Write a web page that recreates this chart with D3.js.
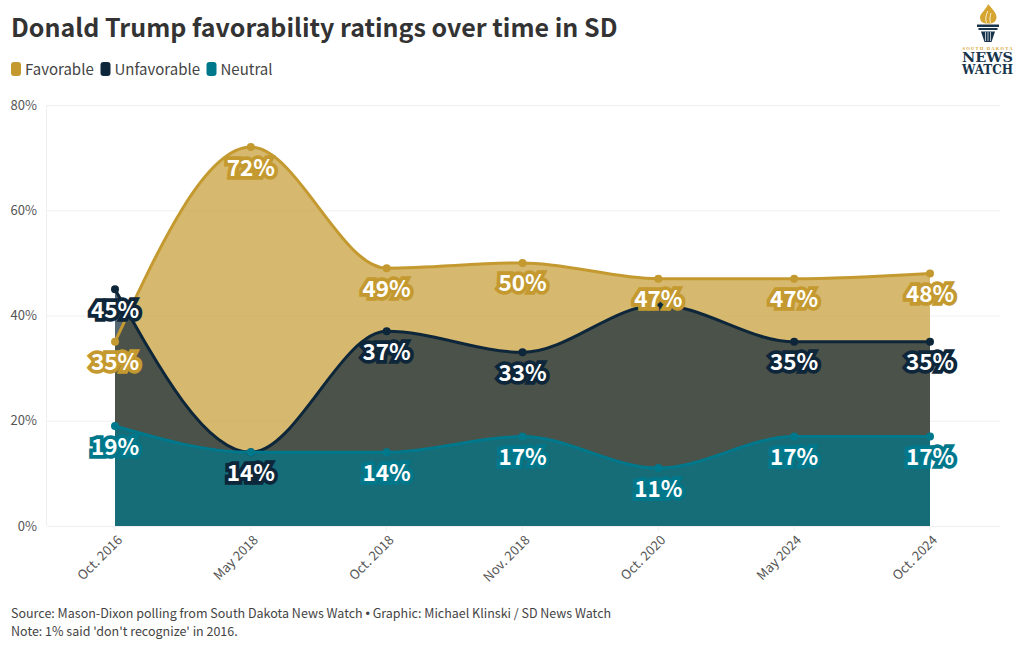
<!DOCTYPE html>
<html><head><meta charset="utf-8">
<script src="https://cdn.jsdelivr.net/npm/d3@7"></script>
<style>
html,body{margin:0;padding:0;background:#fff;}
svg{display:block;font-family:"Noto Sans CJK SC","Noto Sans",sans-serif;}
</style></head><body>
<svg id="c" width="1020" height="650"></svg>
<script>
const categories=["Oct. 2016","May 2018","Oct. 2018","Nov. 2018","Oct. 2020","May 2024","Oct. 2024"];
const favorable=[35,72,49,50,47,47,48];
const unfavorable=[45,14,37,33,42,35,35];
const neutral=[19,14,14,17,11,17,17];
const yTicks=[0,20,40,60,80];
const names=["Favorable","Unfavorable","Neutral"];
const colors=["#c49a30","#0e2639","#00788c"];
const unfavLabels=[true,true,true,true,false,true,true];

const svg=d3.select("#c");
const x=d3.scalePoint().domain(categories).range([115,930]);
const y=d3.scaleLinear().domain([0,80]).range([526,105]);

svg.append("g").selectAll("line").data(yTicks).join("line")
  .attr("x1",47).attr("x2",1000).attr("y1",d=>y(d)+.5).attr("y2",d=>y(d)+.5)
  .attr("stroke","#efefef");
svg.append("line").attr("x1",46.5).attr("x2",46.5).attr("y1",105).attr("y2",526).attr("stroke","#efefef");
svg.append("g").selectAll("line").data(categories).join("line")
  .attr("x1",d=>x(d)).attr("x2",d=>x(d)).attr("y1",526).attr("y2",531).attr("stroke","#efefef");
svg.append("g").selectAll("text").data(yTicks).join("text")
  .attr("x",37).attr("y",d=>y(d)+4.5).attr("text-anchor","end")
  .attr("font-size",13).attr("fill","#555").text(d=>d+"%");
svg.append("g").selectAll("text").data(categories).join("text")
  .attr("text-anchor","end").attr("font-size",13).attr("fill","#555")
  .attr("transform",d=>`translate(${x(d)+8},${541}) rotate(-45)`).text(d=>d);

const curve=d3.curveMonotoneX;
const seriesValues=[favorable,unfavorable,neutral];
const area=d3.area().x((d,i)=>x(categories[i])).y0(y(0)).y1(d=>y(d)).curve(curve);
const line=d3.line().x((d,i)=>x(categories[i])).y(d=>y(d)).curve(curve);
seriesValues.forEach((vals,k)=>{
  svg.append("path").attr("d",area(vals)).attr("fill",colors[k]).attr("fill-opacity",.7);
});
seriesValues.forEach((vals,k)=>{
  svg.append("path").attr("d",line(vals)).attr("fill","none").attr("stroke",colors[k]).attr("stroke-width",3);
  svg.append("g").selectAll("circle").data(vals).join("circle")
    .attr("cx",(d,i)=>x(categories[i])).attr("cy",d=>y(d)).attr("r",4).attr("fill",colors[k]);
});
const labelOrder=[0,2,1];
function labels(k){
  return svg.append("g").selectAll("text")
    .data(seriesValues[k].map((v,i)=>({v,i})).filter(d=>k!==1||unfavLabels[d.i])).join("text")
    .attr("x",d=>x(categories[d.i])).attr("y",d=>y(d.v)+28.5)
    .attr("text-anchor","middle").attr("font-size",22.5).attr("font-weight",700)
    .text(d=>d.v+"%");
}
labelOrder.forEach(k=>{
  labels(k).attr("fill",colors[k]).attr("stroke",colors[k]).attr("stroke-width",7.5).attr("stroke-linejoin","miter").attr("stroke-miterlimit",3);
  if(k===0){
    svg.append("circle").attr("cx",x(categories[4])+1).attr("cy",y(unfavorable[4])).attr("r",2).attr("fill",colors[1]);
  }
  labels(k).attr("fill","#fff");
});

svg.append("text").attr("x",11).attr("y",37).attr("font-size",25).attr("font-weight",700).attr("fill","#333")
  .text("Donald Trump favorability ratings over time in SD");
const legendX=[11,100.5,206.5];
names.forEach((n,k)=>{
  svg.append("rect").attr("x",legendX[k]).attr("y",62).attr("width",10).attr("height",14).attr("rx",3).attr("fill",colors[k]);
  svg.append("text").attr("x",legendX[k]+14).attr("y",75).attr("font-size",15).attr("fill","#444").text(n);
});
const source=svg.append("text").attr("x",11).attr("y",618).attr("font-size",12.5).attr("fill","#444");
source.append("tspan").text("Source: Mason-Dixon polling from South Dakota News Watch ");
source.append("tspan").attr("font-family","Liberation Sans").text("•");
source.append("tspan").text(" Graphic: Michael Klinski / SD News Watch");
svg.append("text").attr("x",11).attr("y",636).attr("font-size",12.5).attr("fill","#444")
  .text("Note: 1% said 'don't recognize' in 2016.");

const logo=svg.append("g");
logo.append("path").attr("fill","#d5a52f").attr("d","M988 4C992 9 997 13 996.5 18C996 21 994 23 991 23.5L985.5 23.5C982 23 980 21 980 17.5C980 13.5 986 10 988 4Z");
logo.append("path").attr("fill","none").attr("stroke","#fff").attr("stroke-width",.8).attr("d","M988 11C986 15 985 19 986.5 23M991 13C990 16 989.5 20 990.5 23");
logo.append("rect").attr("x",977).attr("y",24.5).attr("width",22).attr("height",2.5).attr("fill","#17344b");
logo.append("rect").attr("x",978.5).attr("y",28).attr("width",19).attr("height",2).attr("fill","#17344b");
logo.append("path").attr("fill","#17344b").attr("d","M981 31.5H995L991.5 42H984.5Z");
logo.append("path").attr("fill","none").attr("stroke","#fff").attr("stroke-width",.7).attr("d","M985.5 32V41M988 32V41M990.5 32V41");
logo.append("text").attr("x",987.5).attr("y",49.5).attr("text-anchor","middle").attr("font-size",4.6).attr("font-weight",700)
  .attr("fill","#d5a52f").attr("font-family","Liberation Serif").attr("textLength",50).text("SOUTH DAKOTA");
logo.append("text").attr("x",987.5).attr("y",62).attr("text-anchor","middle").attr("font-size",13.5).attr("font-weight",700)
  .attr("fill","#17344b").attr("font-family","DejaVu Serif").attr("textLength",51).attr("lengthAdjust","spacingAndGlyphs").text("NEWS");
logo.append("text").attr("x",987.5).attr("y",73.5).attr("text-anchor","middle").attr("font-size",12).attr("font-weight",700)
  .attr("fill","#17344b").attr("font-family","DejaVu Serif").attr("textLength",51).attr("lengthAdjust","spacingAndGlyphs").text("WATCH");
</script></body></html>
